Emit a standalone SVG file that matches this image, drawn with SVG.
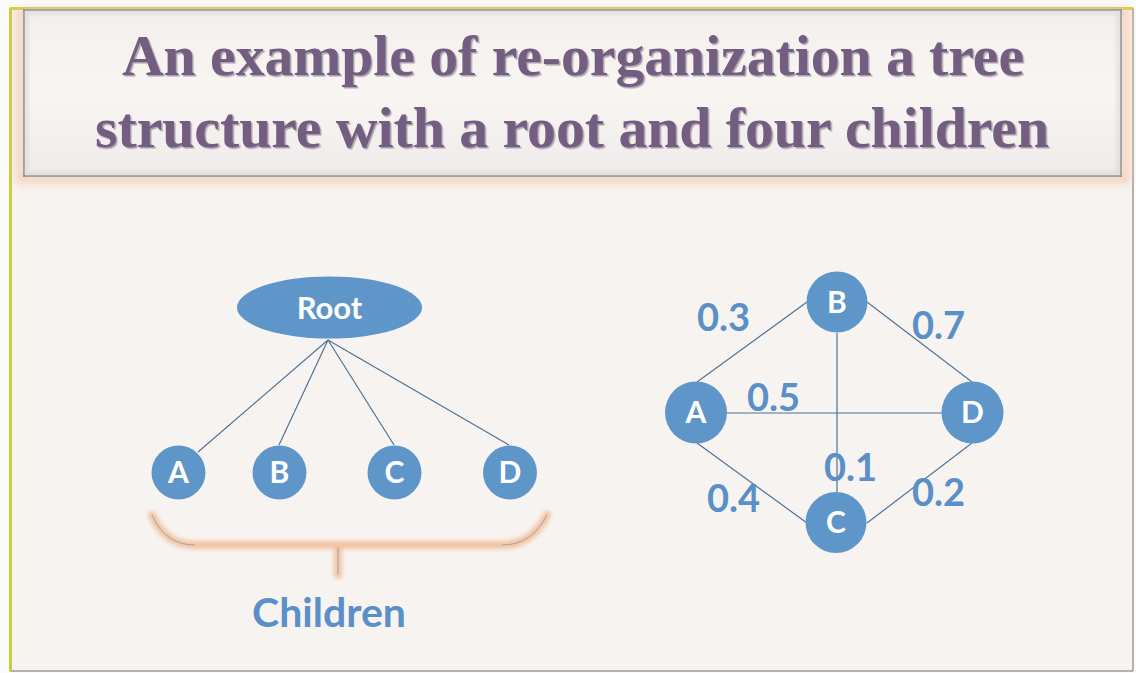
<svg xmlns="http://www.w3.org/2000/svg" width="1136" height="673" viewBox="0 0 1136 673">
  <defs>
    <filter id="glow" x="-5%" y="-10%" width="110%" height="120%">
      <feGaussianBlur stdDeviation="4"/>
    </filter>
    <filter id="soft" x="-10%" y="-10%" width="120%" height="120%">
      <feGaussianBlur stdDeviation="2"/>
    </filter>
    <filter id="ts" x="-5%" y="-20%" width="110%" height="140%">
      <feDropShadow dx="1.5" dy="1.5" stdDeviation="0.6" flood-color="#4a3a55" flood-opacity="0.45"/>
    </filter>
    <linearGradient id="inner" x1="0" y1="0" x2="0" y2="1">
      <stop offset="0" stop-color="#f3efed"/>
      <stop offset="0.5" stop-color="#f8f5f3"/>
      <stop offset="1" stop-color="#efebea"/>
    </linearGradient>
  </defs>
  <style>
    .node { fill: #5f96c9; }
    .nlabel { font-family: Lato, "Open Sans", "Liberation Sans", sans-serif; font-weight: bold; fill: #ffffff; text-anchor: middle; }
    .edge { stroke: #4f7397; stroke-width: 1.2; fill: none; }
    .wlabel { font-family: Lato, "Open Sans", "Liberation Sans", sans-serif; font-weight: bold; fill: #5a8fc8; font-size: 38px; }
    .title { font-family: "Liberation Serif", "DejaVu Serif", serif; font-weight: bold; fill: #735d80; font-size: 56px; text-anchor: middle; }
  </style>

  <!-- page -->
  <rect x="0" y="0" width="1136" height="673" fill="#fbfbfb"/>
  <rect x="10" y="8" width="1123" height="663" fill="#f7f3f0"/>
  <line x1="1133" y1="8" x2="1133" y2="671" stroke="#9a9a9a" stroke-width="1.5"/>
  <line x1="10" y1="671" x2="1133" y2="671" stroke="#9a9a9a" stroke-width="1.5"/>
  <line x1="10.5" y1="8" x2="10.5" y2="671" stroke="#c9cf3a" stroke-width="3"/>
  <line x1="10" y1="8.5" x2="1133" y2="8.5" stroke="#c9cf3a" stroke-width="3"/>

  <!-- title box -->
  <g id="title">
    <rect x="20" y="12" width="1106" height="168" fill="none" stroke="#f6c9aa" stroke-width="6" filter="url(#glow)"/>
    <rect x="24" y="10" width="1097" height="166" fill="url(#inner)" stroke="#8c8c8c" stroke-width="2"/>
    <rect x="26" y="12" width="1093" height="162" fill="none" stroke="#d8d4d3" stroke-width="3" filter="url(#soft)"/>
    <text class="title" x="573" y="75" textLength="902" lengthAdjust="spacingAndGlyphs" filter="url(#ts)">An example of re-organization a tree</text>
    <text class="title" x="572" y="147" textLength="954" lengthAdjust="spacingAndGlyphs" filter="url(#ts)">structure with a root and four children</text>
  </g>

  <!-- connectors -->
  <g id="connectors">
    <line class="edge" x1="328" y1="340" x2="198" y2="452"/>
    <line class="edge" x1="328" y1="340" x2="279" y2="445"/>
    <line class="edge" x1="328" y1="340" x2="394" y2="445"/>
    <line class="edge" x1="328" y1="340" x2="509" y2="445"/>

    <line class="edge" x1="697" y1="382" x2="807" y2="302"/>
    <line class="edge" x1="867" y1="302" x2="972" y2="382"/>
    <line class="edge" x1="727" y1="413" x2="942" y2="413"/>
    <line class="edge" x1="837" y1="333" x2="837" y2="492"/>
    <line class="edge" x1="697" y1="443" x2="807" y2="523"/>
    <line class="edge" x1="867" y1="523" x2="972" y2="443"/>
  </g>

  <!-- left tree -->
  <g id="root">
    <ellipse class="node" cx="329.5" cy="307.5" rx="92.5" ry="31"/>
    <text class="nlabel" x="329.5" y="318.5" font-size="31">Root</text>
  </g>
  <g id="tA">
    <circle class="node" cx="178.5" cy="472.5" r="27"/>
    <text class="nlabel" x="178.5" y="483" font-size="30">A</text>
  </g>
  <g id="tB">
    <circle class="node" cx="279.5" cy="472.5" r="27"/>
    <text class="nlabel" x="279.5" y="483" font-size="30">B</text>
  </g>
  <g id="tC">
    <circle class="node" cx="394.5" cy="472.5" r="27"/>
    <text class="nlabel" x="394.5" y="483" font-size="30">C</text>
  </g>
  <g id="tD">
    <circle class="node" cx="510" cy="472.5" r="27"/>
    <text class="nlabel" x="510" y="483" font-size="30">D</text>
  </g>

  <!-- brace -->
  <g id="brace">
    <path d="M152 515 Q165 545 195 545 L502 545 Q532 545 547 515 M338 545 L338 575" fill="none" stroke="#f3c3a2" stroke-width="8" stroke-linecap="round" filter="url(#soft)"/>
    <path d="M152 515 Q165 545 195 545 M502 545 Q532 545 547 515 M338 547 L338 574" fill="none" stroke="#8a9bb0" stroke-width="0.8"/>
  </g>
  <g id="children-label">
    <text x="329" y="627" font-family="Lato, 'Open Sans', 'Liberation Sans', sans-serif" font-weight="bold" font-size="41" fill="#5a8fc8" text-anchor="middle">Children</text>
  </g>

  <!-- right graph -->
  <g id="gB">
    <circle class="node" cx="837" cy="302" r="30.5"/>
    <text class="nlabel" x="837" y="312.5" font-size="30">B</text>
  </g>
  <g id="gA">
    <circle class="node" cx="696" cy="412.5" r="31"/>
    <text class="nlabel" x="696" y="423" font-size="30">A</text>
  </g>
  <g id="gD">
    <circle class="node" cx="972.5" cy="412.5" r="31"/>
    <text class="nlabel" x="972.5" y="423" font-size="30">D</text>
  </g>
  <g id="gC">
    <circle class="node" cx="836" cy="522.5" r="30.5"/>
    <text class="nlabel" x="836" y="533" font-size="30">C</text>
  </g>

  <g id="weights">
    <text class="wlabel" x="697" y="331">0.3</text>
    <text class="wlabel" x="912" y="339">0.7</text>
    <text class="wlabel" x="747" y="411">0.5</text>
    <text class="wlabel" x="824" y="481">0.1</text>
    <text class="wlabel" x="707" y="512">0.4</text>
    <text class="wlabel" x="912" y="506">0.2</text>
  </g>
</svg>
